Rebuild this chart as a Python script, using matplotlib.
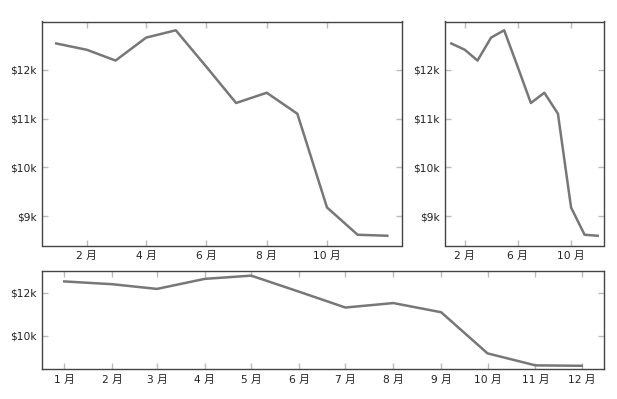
import matplotlib
matplotlib.use("Agg")
import matplotlib.pyplot as plt
import matplotlib.dates as mdates
import matplotlib.ticker as mticker
import pandas as pd

plt.rcParams['font.family'] = ['DejaVu Sans', 'Noto Sans CJK JP']

months = pd.date_range("2024-01-01", periods=12, freq="MS")
values = [12540, 12410, 12190, 12660, 12810, 12060, 11320, 11530, 11100, 9180, 8620, 8600]

line_color = "#777777"
spine_color = "#444444"
tick_color = "#bbbbbb"

fig = plt.figure(figsize=(6.17, 3.99), dpi=100)
ax1 = fig.add_axes([42/617, 1-245.5/399, 359.5/617, 224/399])
ax2 = fig.add_axes([445/617, 1-245.5/399, 159/617, 224/399])
ax3 = fig.add_axes([42/617, 1-369/399, 562/617, 98.5/399])

def month_fmt(x, pos=None):
    d = mdates.num2date(x)
    return f"{d.month} 月"

def dollar_fmt(y, pos=None):
    return f"${y/1000:.0f}k"

configs = [
    (ax1, [2, 4, 6, 8, 10], 1000, (8400, 12990)),
    (ax2, [2, 6, 10], 1000, (8400, 12990)),
    (ax3, list(range(1, 13)), 2000, (8450, 13050)),
]
for ax, bym, ystep, ylim in configs:
    ax.plot(months, values, color=line_color, lw=1.8)
    ax.margins(x=0.043)
    ax.set_ylim(*ylim)
    ax.xaxis.set_major_locator(mdates.MonthLocator(bymonth=bym))
    ax.xaxis.set_major_formatter(mticker.FuncFormatter(month_fmt))
    ax.yaxis.set_major_locator(mticker.MultipleLocator(ystep))
    ax.yaxis.set_major_formatter(mticker.FuncFormatter(dollar_fmt))
    ax.tick_params(direction='in', length=4, width=1, color=tick_color,
                   labelsize=7.7, labelcolor='#222222',
                   top=True, right=True, pad=4)
    for s in ax.spines.values():
        s.set_color(spine_color)
        s.set_linewidth(1.0)

fig.savefig("out.png", dpi=100)
